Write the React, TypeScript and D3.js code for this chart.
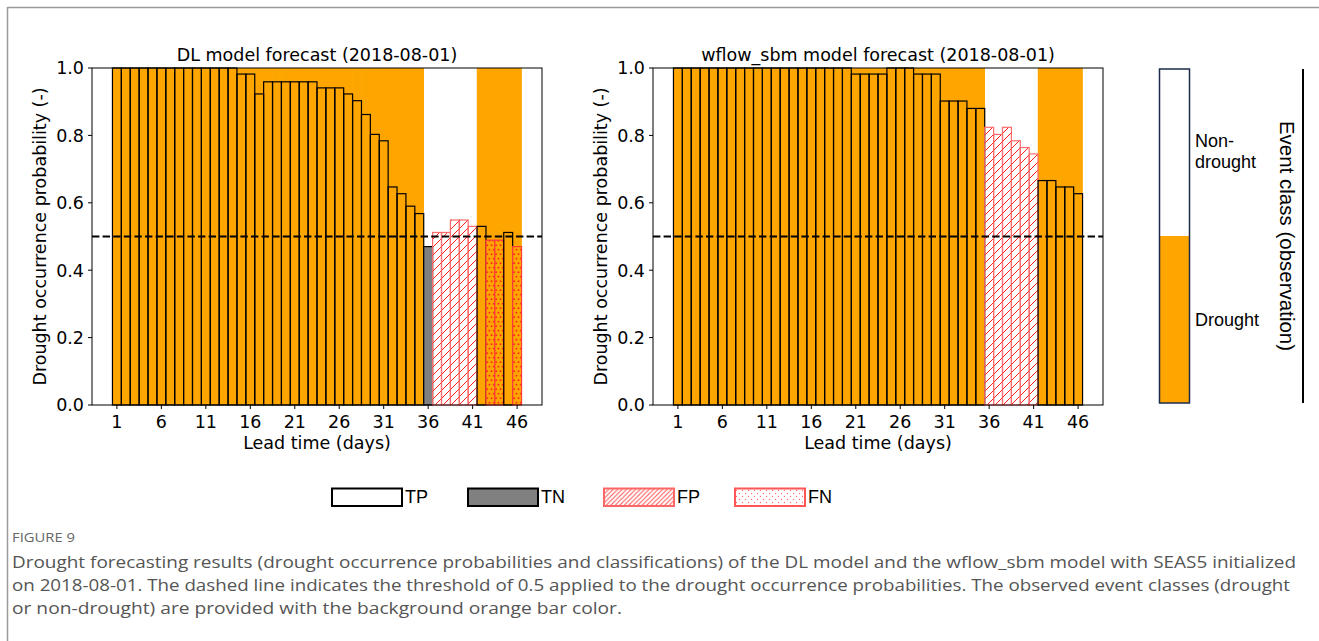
import * as d3 from 'd3'

// lead times and observed event class (1 = drought, 0 = non-drought)
const leadDays = d3.range(1, 47)
const observedDrought = [
  1, 1, 1, 1, 1, 1, 1, 1, 1, 1, 1, 1, 1, 1, 1, 1, 1, 1, 1, 1, 1, 1, 1, 1, 1, 1, 1, 1, 1, 1, 1, 1, 1, 1, 1,
  0, 0, 0, 0, 0, 0,
  1, 1, 1, 1, 1
]

// drought occurrence probabilities
const dlProb = [
  1.0, 1.0, 1.0, 1.0, 1.0, 1.0, 1.0, 1.0, 1.0, 1.0, 1.0, 1.0, 1.0, 1.0,
  0.982, 0.982, 0.923, 0.959, 0.959, 0.959, 0.959, 0.959, 0.959, 0.941, 0.941, 0.941,
  0.923, 0.903, 0.862, 0.803, 0.784, 0.647, 0.627, 0.59, 0.568,
  0.47, 0.512, 0.512, 0.549, 0.549, 0.53, 0.53, 0.489, 0.489, 0.512, 0.47
]
const wflowProb = [
  1.0, 1.0, 1.0, 1.0, 1.0, 1.0, 1.0, 1.0, 1.0, 1.0, 1.0, 1.0, 1.0, 1.0, 1.0, 1.0, 1.0, 1.0, 1.0, 1.0,
  0.982, 0.982, 0.982, 0.982, 1.0, 1.0, 1.0, 0.982, 0.982, 0.982,
  0.902, 0.902, 0.902, 0.88, 0.88,
  0.824, 0.803, 0.824, 0.784, 0.764, 0.745,
  0.666, 0.666, 0.647, 0.647, 0.627
]

const xTicks = [1, 6, 11, 16, 21, 26, 31, 36, 41, 46]
const yTicks = [0, 0.2, 0.4, 0.6, 0.8, 1.0]
const threshold = 0.5
const legendItems = ['TP', 'TN', 'FP', 'FN']
const classLabels = ['Non-drought', 'Drought']

const captionLines = [
  'Drought forecasting results (drought occurrence probabilities and classifications) of the DL model and the wflow_sbm model with SEAS5 initialized',
  'on 2018-08-01. The dashed line indicates the threshold of 0.5 applied to the drought occurrence probabilities. The observed event classes (drought',
  'or non-drought) are provided with the background orange bar color.'
]
const captionWidths = [1284, 1278, 610]

const ORANGE = '#FFA500'
const mpl = 'DejaVu Sans, sans-serif'
const arial = 'Liberation Sans, Arial, sans-serif'

const classify = (p, obs) => {
  const pred = p >= threshold
  if (pred && obs) return 'TP'
  if (!pred && !obs) return 'TN'
  if (pred && !obs) return 'FP'
  return 'FN'
}

function Panel({ left, title, probs }) {
  const top = 68
  const bottom = 405
  const x = d3.scaleLinear().domain([-1.8, 48.8]).range([left, left + 450])
  const y = d3.scaleLinear().domain([0, 1]).range([bottom, top])
  const bw = x(1) - x(0)

  return (
    <g>
      {/* observed class background */}
      {leadDays.map((d, i) =>
        observedDrought[i] ? (
          <rect key={'bg' + d} x={x(d) - bw / 2 - 0.3} y={y(1)} width={bw + 0.6} height={y(0) - y(1)} fill={ORANGE} />
        ) : null
      )}
      {/* forecast bars */}
      {leadDays.map((d, i) => {
        const c = classify(probs[i], observedDrought[i])
        let fill = 'none'
        let stroke = '#000'
        if (c === 'TN') fill = '#808080'
        if (c === 'FP') { fill = 'url(#hatchPlot)'; stroke = '#ff6b6b' }
        if (c === 'FN') { fill = 'url(#dotsPlot)'; stroke = '#ff3b3b' }
        return (
          <rect key={'b' + d} x={x(d) - bw / 2} y={y(probs[i])} width={bw} height={y(0) - y(probs[i])}
            fill={fill} stroke={stroke} strokeWidth={1.2} />
        )
      })}
      {/* threshold */}
      <line x1={left} x2={left + 450} y1={y(threshold)} y2={y(threshold)} stroke="#000" strokeWidth={2}
        strokeDasharray="7.4,3.2" />
      {/* frame */}
      <rect x={left} y={top} width={450} height={bottom - top} fill="none" stroke="#000" strokeWidth={1} />
      {xTicks.map(t => (
        <g key={'xt' + t}>
          <line x1={x(t)} x2={x(t)} y1={bottom} y2={bottom + 4} stroke="#000" />
          <text x={x(t)} y={bottom + 22.5} textAnchor="middle" fontSize={17.5} fontFamily={mpl}>{t}</text>
        </g>
      ))}
      {yTicks.map(t => (
        <g key={'yt' + t}>
          <line x1={left - 4} x2={left} y1={y(t)} y2={y(t)} stroke="#000" />
          <text x={left - 8} y={y(t) + 6.3} textAnchor="end" fontSize={17.5} fontFamily={mpl}>{t.toFixed(1)}</text>
        </g>
      ))}
      <text x={left + 225} y={61} textAnchor="middle" fontSize={17.5} fontFamily={mpl}>{title}</text>
      <text x={left + 225} y={449} textAnchor="middle" fontSize={17.5} fontFamily={mpl}>Lead time (days)</text>
      <text transform={`translate(${left - 46},${(top + bottom) / 2}) rotate(-90)`} textAnchor="middle"
        fontSize={17.5} fontFamily={mpl}>Drought occurrence probability (-)</text>
    </g>
  )
}

export default function App() {
  const legendX = [332, 468, 604, 735]
  return (
    <svg width={1319} height={641} style={{ position: 'absolute', left: 0, top: 0, display: 'block', background: '#fff' }}>
      <defs>
        <pattern id="hatchPlot" patternUnits="userSpaceOnUse" width={8} height={8}>
          <path d="M-2,2 l4,-4 M0,8 l8,-8 M6,10 l4,-4" stroke="#ff2020" strokeWidth={1} />
        </pattern>
        <pattern id="dotsPlot" patternUnits="userSpaceOnUse" width={4.5} height={9}>
          <rect width={4.5} height={9} fill={ORANGE} />
          <circle cx={1.1} cy={2.2} r={0.9} fill="#ff1a1a" />
          <circle cx={3.35} cy={6.7} r={0.9} fill="#ff1a1a" />
        </pattern>
        <pattern id="hatchLegend" patternUnits="userSpaceOnUse" width={4.5} height={4.5}>
          <path d="M-1,1 l2,-2 M0,4.5 l4.5,-4.5 M3.5,5.5 l2,-2" stroke="#ff5050" strokeWidth={1} />
        </pattern>
        <pattern id="dotsLegend" patternUnits="userSpaceOnUse" width={6} height={6}>
          <circle cx={1.5} cy={1.5} r={0.7} fill="#ff7070" />
          <circle cx={4.5} cy={4.5} r={0.7} fill="#ff7070" />
        </pattern>
      </defs>

      {/* figure frame */}
      <line x1={7.5} x2={1319} y1={7.5} y2={7.5} stroke="#9a9a9a" strokeWidth={1.5} />
      <line x1={7.5} x2={7.5} y1={7} y2={641} stroke="#9a9a9a" strokeWidth={1.5} />

      <Panel left={92} title="DL model forecast (2018-08-01)" probs={dlProb} />
      <Panel left={653} title="wflow_sbm model forecast (2018-08-01)" probs={wflowProb} />

      {/* observed class colour key */}
      <rect x={1159.5} y={69} width={30} height={167} fill="#fff" />
      <rect x={1159.5} y={236} width={30} height={167} fill={ORANGE} />
      <rect x={1159.5} y={69} width={30} height={334} fill="none" stroke="#1c2b4b" strokeWidth={1.5} />
      <text x={1195} y={147} fontSize={18} fontFamily={arial}>Non-</text>
      <text x={1195} y={168} fontSize={18} fontFamily={arial}>{classLabels[0].slice(4)}</text>
      <text x={1195} y={326} fontSize={18} fontFamily={arial}>{classLabels[1]}</text>
      <line x1={1303} x2={1303} y1={69} y2={403} stroke="#000" strokeWidth={2} />
      <text transform="translate(1280,236) rotate(90)" textAnchor="middle" fontSize={20.5} fontFamily={arial}>
        Event class (observation)
      </text>

      {/* legend */}
      {legendItems.map((k, i) => {
        const fills = { TP: '#fff', TN: '#808080', FP: 'url(#hatchLegend)', FN: 'url(#dotsLegend)' }
        const strokes = { TP: '#000', TN: '#000', FP: '#ff6666', FN: '#ff5555' }
        return (
          <g key={k}>
            {k === 'FP' || k === 'FN' ? <rect x={legendX[i]} y={488.5} width={70} height={17.5} fill="#fff" /> : null}
            <rect x={legendX[i]} y={488.5} width={70} height={17.5} fill={fills[k]} stroke={strokes[k]} strokeWidth={2} />
            <text x={legendX[i] + 73} y={503} fontSize={18} fontFamily={arial}>{k}</text>
          </g>
        )
      })}

      {/* caption */}
      <text x={12} y={541.5} fontSize={12} fill="#666" fontFamily="Open Sans, sans-serif" textLength={63}
        lengthAdjust="spacingAndGlyphs">FIGURE 9</text>
      {captionLines.map((l, i) => (
        <text key={i} x={12} y={567.5 + i * 23} fontSize={17} fill="#555" fontFamily="Open Sans, sans-serif"
          textLength={captionWidths[i]} lengthAdjust="spacingAndGlyphs">{l}</text>
      ))}
    </svg>
  )
}
